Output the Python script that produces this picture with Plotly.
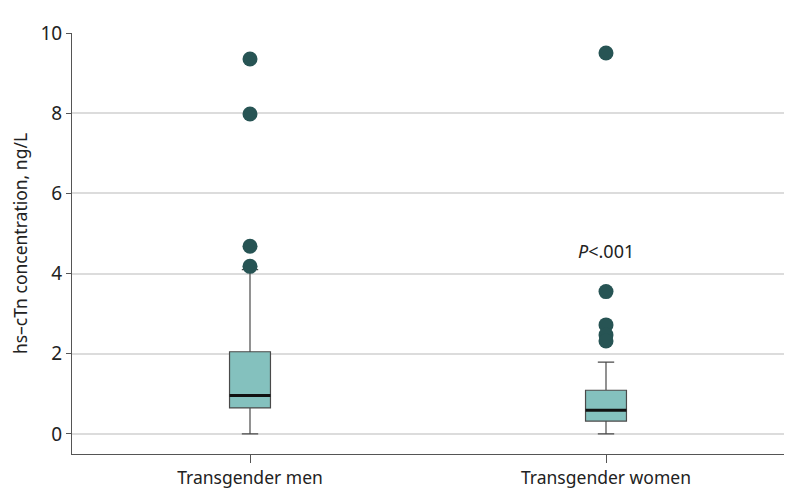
import plotly.graph_objects as go

groups = ["Transgender men", "Transgender women"]
q1 = [0.65, 0.32]
median = [0.96, 0.59]
q3 = [2.05, 1.09]
lower_fence = [0.0, 0.0]
upper_fence = [4.1, 1.79]
outliers_men = [9.35, 7.98, 4.68, 4.18]
outliers_women = [9.5, 3.55, 2.72, 2.47, 2.32]
y_ticks = [0, 2, 4, 6, 8, 10]
p_label = "<i>P</i><.001"
p_label_y = 4.57

xpos = [0, 1]
box_w = 0.115
FONT = "Noto Sans, Open Sans, sans-serif"

fig = go.Figure()
fig.add_trace(go.Box(
    x=xpos, q1=q1, median=median, q3=q3,
    lowerfence=lower_fence, upperfence=upper_fence,
    width=box_w, whiskerwidth=0.4,
    fillcolor="#84c1be", line=dict(color="#4a4a4a", width=1.2),
    boxpoints=False, showlegend=False, hoverinfo="skip",
))
for i, m in zip(xpos, median):
    fig.add_trace(go.Scatter(
        x=[i - box_w / 2, i + box_w / 2], y=[m, m], mode="lines",
        line=dict(color="#111111", width=3), showlegend=False, hoverinfo="skip",
    ))
fig.add_trace(go.Scatter(
    x=[0] * len(outliers_men) + [1] * len(outliers_women),
    y=outliers_men + outliers_women, mode="markers",
    marker=dict(color="#275454", size=15), showlegend=False,
))
fig.add_annotation(x=1, y=p_label_y, text=p_label, showarrow=False,
                   font=dict(size=18, color="#222222", family=FONT))

fig.update_layout(
    width=794, height=504,
    margin=dict(l=62, r=18, t=21, b=58),
    paper_bgcolor="white", plot_bgcolor="white",
    font=dict(family=FONT, color="#222222"),
    xaxis=dict(range=[-0.5, 1.5], tickvals=xpos, ticktext=groups,
               showgrid=False, zeroline=False, showline=True, linecolor="#555555",
               ticks="outside", ticklen=8, tickcolor="#555555",
               tickfont=dict(size=17.5, color="#222222")),
    yaxis=dict(range=[-0.5, 10], tickvals=y_ticks, showgrid=True, gridcolor="#dcdcdc",
               gridwidth=1.5, zeroline=False, showline=True, linecolor="#555555",
               ticks="outside", ticklen=5, tickcolor="#555555",
               tickfont=dict(size=19, color="#222222"),
               title=dict(text="hs–cTn concentration, ng/L", font=dict(size=17.5), standoff=8)),
)

fig.write_html("out.html")
